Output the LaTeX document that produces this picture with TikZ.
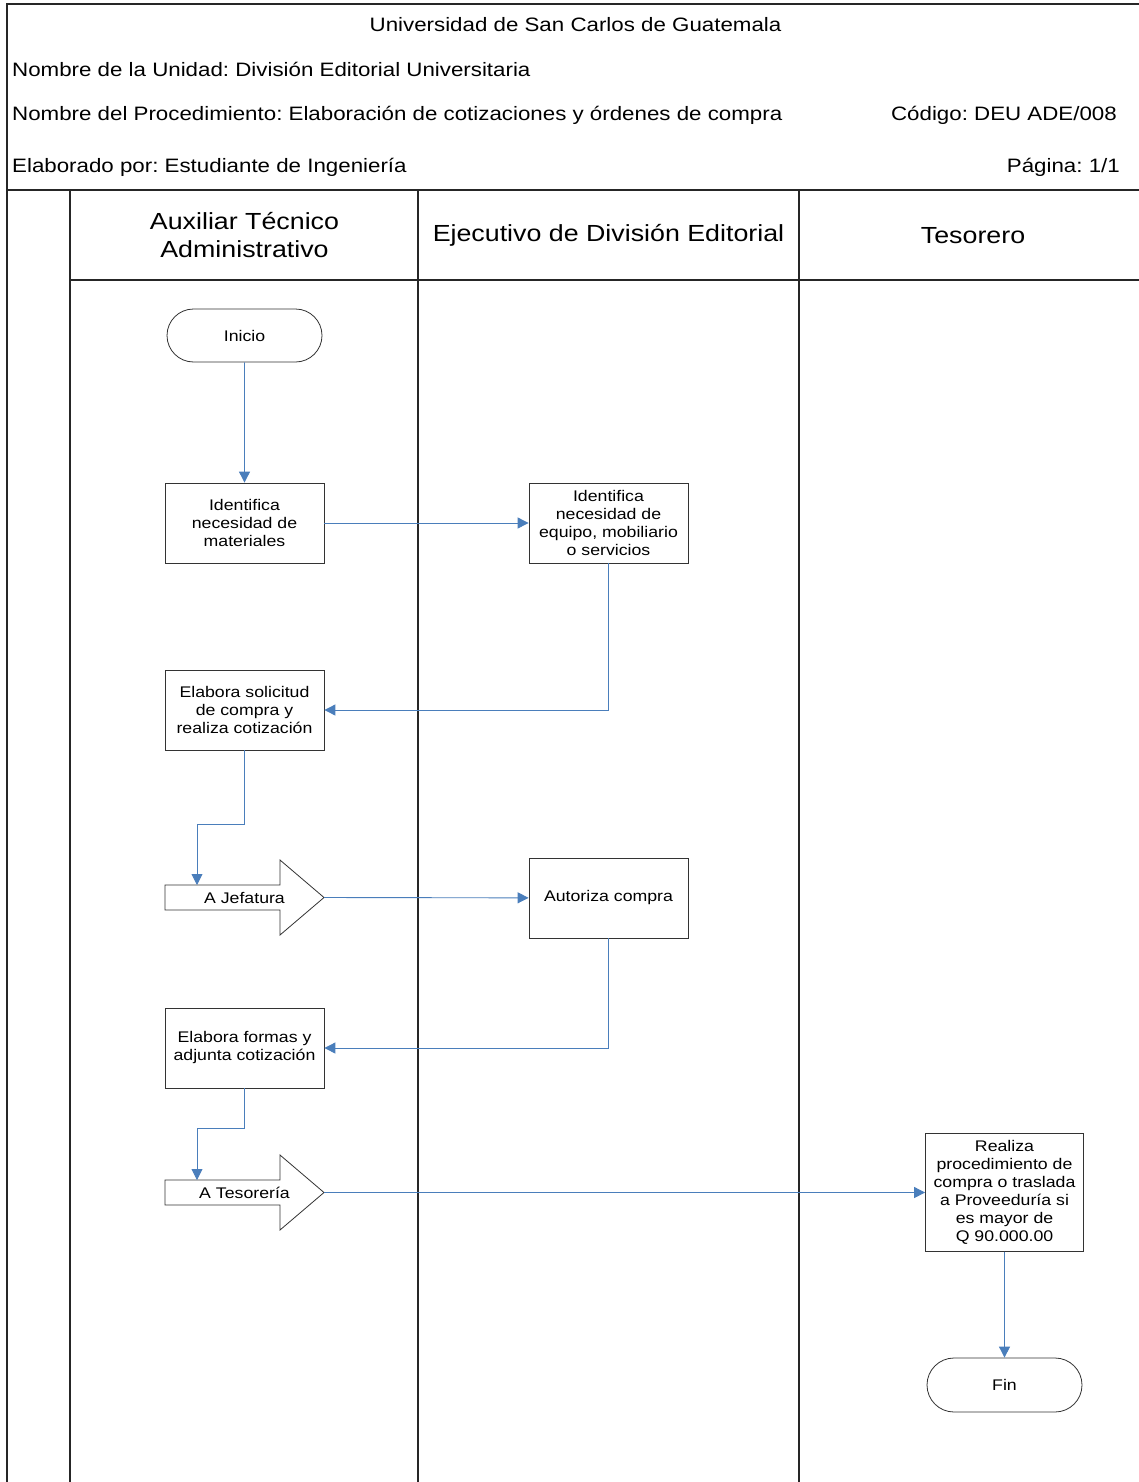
\documentclass[tikz,border=0pt]{standalone}
\usepackage{fontspec}
\setmainfont{Liberation Sans}[FakeStretch=1.15]
\usetikzlibrary{arrows.meta,shapes.misc}
\definecolor{flow}{HTML}{4A7EBB}
\frenchspacing
\tikzset{
  frameline/.style={line width=1.6pt, draw=black!85},
  hdr/.style={inner sep=0pt, font=\fontsize{19.4}{22}\selectfont},
  lanehdr/.style={inner sep=0pt, align=center, font=\fontsize{23.3}{28}\selectfont},
  proc/.style={draw=black!80, line width=0.8pt, fill=white, minimum width=159pt, minimum height=80pt,
               align=center, inner sep=2pt, font=\fontsize{15.4}{18}\selectfont},
  term/.style={rounded rectangle, draw=black!80, line width=0.8pt, fill=white, minimum width=159pt,
               minimum height=53pt, inner sep=2pt, font=\fontsize{15.4}{18}\selectfont},
  sendshape/.style={draw=black!80, line width=0.8pt, fill=white},
  sendtext/.style={inner sep=0pt, font=\fontsize{15.4}{18}\selectfont},
  conn/.style={draw=flow, line width=0.9pt, -{Triangle[length=11pt,width=11pt]}},
}
\begin{document}
\begin{tikzpicture}[x=1pt,y=-1pt]
\useasboundingbox (0,0) rectangle (1139,1482);
\fill[white] (0,0) rectangle (1139,1482);
% frame
\draw[frameline] (7,1482) -- (7,4) -- (1139,4);
\draw[frameline] (7,190) -- (1139,190);
\draw[frameline] (70,190) -- (70,1482);
\draw[frameline] (418,190) -- (418,1482);
\draw[frameline] (799,190) -- (799,1482);
\draw[frameline] (70,280) -- (1139,280);
% header texts
\node[hdr] (title) at (575.5,24.5) {Universidad de San Carlos de Guatemala};
\node[hdr, anchor=west] (unidad) at (12,69.5) {Nombre de la Unidad: División Editorial Universitaria};
\node[hdr, anchor=west] (proced) at (12,115.5) {Nombre del Procedimiento: Elaboración de cotizaciones y órdenes de compra};
\node[hdr, anchor=east] (codigo) at (1117,115.5) {Código: DEU ADE/008};
\node[hdr, anchor=west] (elabpor) at (12,167.5) {Elaborado por: Estudiante de Ingeniería};
\node[hdr, anchor=east] (pagina) at (1120,167.5) {Página: 1/1};
% lane headers
\node[lanehdr] (lane1) at (244.5,235.5) {Auxiliar Técnico\\Administrativo};
\node[lanehdr] (lane2) at (608.5,235.5) {Ejecutivo de División Editorial};
\node[lanehdr] (lane3) at (973,235.5) {Tesorero};
% nodes
\node[term] (inicio) at (244.5,335.5) {Inicio};
\node[proc] (idmat) at (244.5,523) {Identifica\\necesidad de\\materiales};
\node[proc] (ideq) at (608.5,523) {Identifica\\necesidad de\\equipo, mobiliario\\o servicios};
\node[proc] (elab) at (244.5,710) {Elabora solicitud\\de compra y\\realiza cotización};
\node[proc] (aut) at (608.5,898) {Autoriza compra};
\node[proc] (form) at (244.5,1048) {Elabora formas y\\adjunta cotización};
\node[proc, minimum height=118pt, minimum width=158pt] (real) at (1004.5,1192.5)
  {Realiza\\procedimiento de\\compra o traslada\\a Proveeduría si\\es mayor de\\Q 90.000.00};
\node[term, minimum height=54pt] (fin) at (1004.5,1385) {Fin};
% off-page send shapes
\draw[sendshape] (165,885) -- (280,885) -- (280,860) -- (324,897.5) -- (280,935) -- (280,910) -- (165,910) -- cycle;
\node[sendtext] (jef) at (244.5,897.5) {A Jefatura};
\coordinate (jefin) at (197,885);
\coordinate (jeftip) at (324,897.5);
\draw[sendshape] (165,1180) -- (280,1180) -- (280,1155) -- (324,1192.5) -- (280,1230) -- (280,1205) -- (165,1205) -- cycle;
\node[sendtext] (tes) at (244.5,1192.5) {A Tesorería};
\coordinate (tesin) at (197,1180);
\coordinate (testip) at (324,1192.5);
% bends
\coordinate (b1) at (244.5,824);
\coordinate (b2) at (244.5,1128);
% connectors
\draw[conn] (inicio) -- (idmat);
\draw[conn] (idmat) -- (ideq);
\draw[conn] (ideq.south) |- (elab.east);
\draw[conn] (elab.south) -- (b1) -| (jefin);
\draw[conn] (jeftip) -- (aut);
\draw[conn] (aut.south) |- (form.east);
\draw[conn] (form.south) -- (b2) -| (tesin);
\draw[conn] (testip) -- (real);
\draw[conn] (real) -- (fin);
\end{tikzpicture}
\end{document}
